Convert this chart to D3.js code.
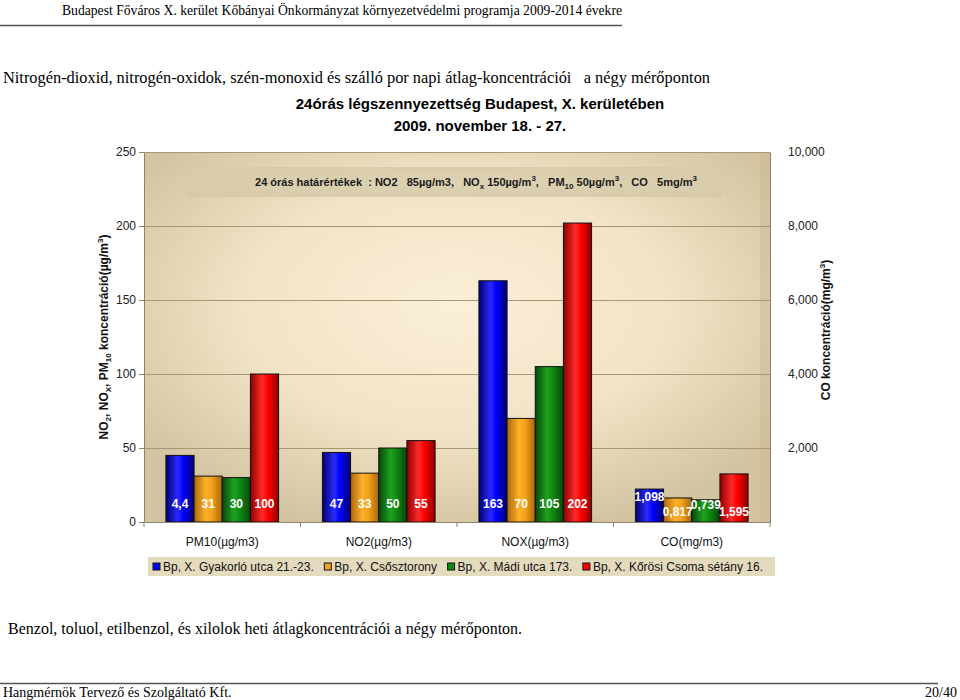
<!DOCTYPE html>
<html>
<head>
<meta charset="utf-8">
<script src="https://cdn.jsdelivr.net/npm/d3@7/dist/d3.min.js"></script>
<style>
  html, body { margin: 0; padding: 0; background: #fff; }
  svg { display: block; }
  text { white-space: pre; }
</style>
</head>
<body>
<svg id="chart" width="960" height="700"></svg>
<script>
// ---------------- DATA ----------------
const categories = ["PM10(µg/m3)", "NO2(µg/m3)", "NOX(µg/m3)", "CO(mg/m3)"];
const seriesNames = ["Bp, X. Gyakorló utca 21.-23.", "Bp, X. Csősztorony", "Bp, X. Mádi utca 173.", "Bp, X. Kőrösi Csoma sétány 16."];
// bar heights as drawn (PM10, NO2, NOX on left axis; CO on right axis)
const gyakorloValues = [45, 47, 163, 0.89];
const csosztoronyValues = [31, 33, 70, 0.65];
const madiValues = [30, 50, 105, 0.60];
const korosiValues = [100, 55, 202, 1.30];
// data labels as printed on the bars
const gyakorloLabels = ["4,4", "47", "163", "1,098"];
const csosztoronyLabels = ["31", "33", "70", "0,817"];
const madiLabels = ["30", "50", "105", "0,739"];
const korosiLabels = ["100", "55", "202", "1,595"];
const leftTicks = [0, 50, 100, 150, 200, 250];
const rightTicks = [2, 4, 6, 8, 10];
const seriesColors = ["#0000ff", "#f7a21b", "#118a11", "#ff0000"];

const seriesValues = [gyakorloValues, csosztoronyValues, madiValues, korosiValues];
const seriesLabels = [gyakorloLabels, csosztoronyLabels, madiLabels, korosiLabels];

// ---------------- LAYOUT ----------------
const svg = d3.select("#chart");
const sans = "'Liberation Sans', Arial, sans-serif";
const serif = "'Liberation Serif', 'Times New Roman', serif";
const plot = { left: 144, right: 770, top: 152, bottom: 522 };

svg.append("rect").attr("width", 960).attr("height", 700).attr("fill", "#fff");

// page header
svg.append("text").attr("x", 62).attr("y", 15)
  .attr("font-family", serif).attr("font-size", 14).attr("fill", "#000")
  .attr("textLength", 560).attr("lengthAdjust", "spacingAndGlyphs")
  .text("Budapest Főváros X. kerület Kőbányai Önkormányzat környezetvédelmi programja 2009-2014 évekre");
svg.append("line").attr("x1", 0).attr("x2", 622).attr("y1", 25.5).attr("y2", 25.5)
  .attr("stroke", "#555").attr("stroke-width", 1.5);

svg.append("text").attr("x", 3).attr("y", 83)
  .attr("font-family", serif).attr("font-size", 16).attr("fill", "#000")
  .attr("textLength", 707).attr("lengthAdjust", "spacingAndGlyphs")
  .text("Nitrogén-dioxid, nitrogén-oxidok, szén-monoxid és szálló por napi átlag-koncentrációi   a négy mérőponton");

// chart title
svg.append("text").attr("x", 480).attr("y", 109).attr("text-anchor", "middle")
  .attr("font-family", sans).attr("font-weight", "bold").attr("font-size", 15).attr("fill", "#000")
  .text("24órás légszennyezettség Budapest, X. kerületében");
svg.append("text").attr("x", 480).attr("y", 131).attr("text-anchor", "middle")
  .attr("font-family", sans).attr("font-weight", "bold").attr("font-size", 15).attr("fill", "#000")
  .text("2009. november 18. - 27.");

// ---------------- DEFS ----------------
const defs = svg.append("defs");
const bg = defs.append("radialGradient").attr("id", "plotbg")
  .attr("cx", "0.5").attr("cy", "0.42").attr("r", "0.62");
bg.append("stop").attr("offset", "0").attr("stop-color", "#fbefd8");
bg.append("stop").attr("offset", "0.55").attr("stop-color", "#f1e3c6");
bg.append("stop").attr("offset", "1").attr("stop-color", "#d3c4a1");

const dark = ["#00006e", "#a8680c", "#07470a", "#8e0000"];
const bright = ["#2a2aff", "#ffb02a", "#1fa21f", "#ff2a2a"];
seriesColors.forEach((c, i) => {
  const g = defs.append("linearGradient").attr("id", "bar" + i)
    .attr("x1", "0").attr("x2", "1").attr("y1", "0").attr("y2", "0");
  g.append("stop").attr("offset", "0").attr("stop-color", dark[i]);
  g.append("stop").attr("offset", "0.42").attr("stop-color", bright[i]);
  g.append("stop").attr("offset", "0.62").attr("stop-color", c);
  g.append("stop").attr("offset", "1").attr("stop-color", dark[i]);
});
const boxGrad = defs.append("radialGradient").attr("id", "limitbox")
  .attr("cx", "0.5").attr("cy", "0.5").attr("r", "0.7");
boxGrad.append("stop").attr("offset", "0").attr("stop-color", "#ddd2b3");
boxGrad.append("stop").attr("offset", "1").attr("stop-color", "#d6caa9");

// ---------------- SCALES ----------------
const x0 = d3.scaleBand().domain(categories).range([plot.left, plot.right]).padding(0);
const x1 = d3.scaleBand().domain(d3.range(seriesNames.length))
  .range([x0.bandwidth() * 0.14, x0.bandwidth() * 0.86]).padding(0);
const yLeft = d3.scaleLinear().domain([0, 250]).range([plot.bottom, plot.top]);
const yRight = d3.scaleLinear().domain([0, 10]).range([plot.bottom, plot.top]);
const yFor = (ci) => (categories[ci].startsWith("CO") ? yRight : yLeft);

// plot background
svg.append("rect").attr("x", plot.left).attr("y", plot.top)
  .attr("width", plot.right - plot.left).attr("height", plot.bottom - plot.top)
  .attr("fill", "url(#plotbg)");
// right wall shading
svg.append("rect").attr("x", plot.right - 10).attr("y", plot.top)
  .attr("width", 10).attr("height", plot.bottom - plot.top)
  .attr("fill", "#c9b990").attr("opacity", 0.45);

// gridlines
svg.append("g").selectAll("line").data(leftTicks.filter(d => d > 0)).join("line")
  .attr("x1", plot.left).attr("x2", plot.right)
  .attr("y1", d => Math.round(yLeft(d)) + 0.5).attr("y2", d => Math.round(yLeft(d)) + 0.5)
  .attr("stroke", "#a59877").attr("stroke-width", 1);

// limit value box
svg.append("rect").attr("x", 187).attr("y", 167).attr("width", 535).attr("height", 30)
  .attr("fill", "url(#limitbox)");
const lim = svg.append("text").attr("x", 476).attr("y", 186).attr("text-anchor", "middle")
  .attr("font-family", sans).attr("font-weight", "bold").attr("font-size", 11).attr("fill", "#1a1a1a");
const limParts = [
  ["24 órás határértékek  : NO2   85µg/m3,   NO", null], ["x", "sub"], [" 150µg/m", null], ["3", "sup"],
  [",   PM", null], ["10", "sub"], [" 50µg/m", null], ["3", "sup"], [",   CO   5mg/m", null], ["3", "sup"]
];
limParts.forEach(([t, k], i) => {
  const ts = lim.append("tspan").text(t);
  const prev = i > 0 ? limParts[i - 1][1] : null;
  let dy = 0;
  if (prev === "sub") dy -= 3;
  if (prev === "sup") dy += 5;
  if (k === "sub") { dy += 3; ts.attr("font-size", 8); }
  if (k === "sup") { dy -= 5; ts.attr("font-size", 8); }
  if (dy) ts.attr("dy", dy);
});

// ---------------- BARS ----------------
const groups = svg.append("g").selectAll("g").data(categories).join("g")
  .attr("transform", d => `translate(${x0(d)},0)`);

const barData = (c, ci) => seriesNames.map((s, si) => ({
  ci, si, value: seriesValues[si][ci], label: seriesLabels[si][ci]
}));

groups.selectAll("rect").data(barData).join("rect")
  .attr("x", d => x1(d.si))
  .attr("width", x1.bandwidth())
  .attr("y", d => yFor(d.ci)(d.value))
  .attr("height", d => yFor(d.ci)(0) - yFor(d.ci)(d.value))
  .attr("fill", d => `url(#bar${d.si})`)
  .attr("stroke", "#111").attr("stroke-width", 1);

// data labels (CO labels sit at Excel's staggered positions)
const coLabelLift = [25, 10, 17, 10];
groups.selectAll("text.lbl").data(barData).join("text").attr("class", "lbl")
  .attr("x", d => x1(d.si) + x1.bandwidth() / 2)
  .attr("y", d => yFor(d.ci)(0) - (categories[d.ci].startsWith("CO") ? coLabelLift[d.si] : 18) + 4)
  .attr("text-anchor", "middle")
  .attr("font-family", sans).attr("font-weight", "bold").attr("font-size", 12)
  .attr("fill", "#fff")
  .text(d => d.label);

// ---------------- AXES ----------------
const axL = svg.append("g").attr("transform", `translate(${plot.left},0)`)
  .call(d3.axisLeft(yLeft).tickValues(leftTicks).tickSize(5).tickSizeOuter(0).tickPadding(3));
axL.select(".domain").attr("stroke", "#8d8270");
axL.selectAll(".tick line").attr("stroke", "#8d8270");
axL.selectAll("text").attr("font-family", sans).attr("font-size", 12).attr("fill", "#222");

const axR = svg.append("g").attr("transform", `translate(${plot.right},0)`)
  .call(d3.axisRight(yRight).tickValues(rightTicks).tickSize(0).tickSizeOuter(0).tickPadding(18)
    .tickFormat(d => d3.format(".3f")(d).replace(".", ",")));
axR.select(".domain").attr("stroke", "#8d8270");
axR.selectAll("text").attr("font-family", sans).attr("font-size", 12).attr("fill", "#222");

// plot top border
svg.append("line").attr("x1", plot.left).attr("x2", plot.right)
  .attr("y1", plot.top + 0.5).attr("y2", plot.top + 0.5).attr("stroke", "#a59877");

const axB = svg.append("g").attr("transform", `translate(0,${plot.bottom})`)
  .call(d3.axisBottom(x0).tickSize(0).tickPadding(15));
axB.select(".domain").attr("stroke", "#8d8270");
axB.selectAll("text").attr("font-family", sans).attr("font-size", 12).attr("fill", "#111");
// category separators
svg.append("g").selectAll("line").data(categories.concat(["__end"])).join("line")
  .attr("x1", (d, i) => i < categories.length ? x0(d) : plot.right)
  .attr("x2", (d, i) => i < categories.length ? x0(d) : plot.right)
  .attr("y1", plot.bottom).attr("y2", plot.bottom + 5)
  .attr("stroke", "#8d8270");

// axis titles
const lt = svg.append("text").attr("transform", "translate(108,337) rotate(-90)")
  .attr("text-anchor", "middle").attr("font-family", sans).attr("font-weight", "bold")
  .attr("font-size", 12).attr("fill", "#111");
[["NO", null], ["2", "sub"], [", NO", null], ["X", "sub"], [", PM", null], ["10", "sub"],
 [" koncentráció(µg/m", null], ["3", "sup"], [")", null]].forEach(([t, k], i, arr) => {
  const ts = lt.append("tspan").text(t);
  const prev = i > 0 ? arr[i - 1][1] : null;
  let dy = 0;
  if (prev === "sub") dy -= 3;
  if (prev === "sup") dy += 5;
  if (k === "sub") { dy += 3; ts.attr("font-size", 8); }
  if (k === "sup") { dy -= 5; ts.attr("font-size", 8); }
  if (dy) ts.attr("dy", dy);
});

const rt = svg.append("text").attr("transform", "translate(830,330) rotate(-90)")
  .attr("text-anchor", "middle").attr("font-family", sans).attr("font-weight", "bold")
  .attr("font-size", 12).attr("fill", "#111");
rt.append("tspan").text("CO koncentráció(mg/m");
rt.append("tspan").text("3").attr("font-size", 8).attr("dy", -5);
rt.append("tspan").text(")").attr("dy", 5);

// ---------------- LEGEND ----------------
const legBox = { x: 148, y: 557, w: 627, h: 19 };
svg.append("rect").attr("x", legBox.x).attr("y", legBox.y).attr("width", legBox.w).attr("height", legBox.h)
  .attr("fill", "#e4dabd");
const leg = svg.append("g");
const items = leg.selectAll("g").data(seriesNames).join("g");
items.append("rect").attr("width", 7).attr("height", 7).attr("y", legBox.y + 6)
  .attr("fill", (d, i) => seriesColors[i]).attr("stroke", "#111").attr("stroke-width", 1);
items.append("text").attr("x", 10).attr("y", legBox.y + 14)
  .attr("font-family", sans).attr("font-size", 12).attr("fill", "#111").text(d => d);
const widths = items.nodes().map(n => 10 + d3.select(n).select("text").node().getComputedTextLength());
const startX = legBox.x + 5, endX = legBox.x + legBox.w - 12;
const gap = (endX - startX - d3.sum(widths)) / (widths.length - 1);
let cx = startX;
items.each(function (d, i) {
  d3.select(this).attr("transform", `translate(${cx},0)`);
  cx += widths[i] + gap;
});

// ---------------- FOOTER TEXT ----------------
svg.append("text").attr("x", 8).attr("y", 634)
  .attr("font-family", serif).attr("font-size", 16).attr("fill", "#000")
  .text("Benzol, toluol, etilbenzol, és xilolok heti átlagkoncentrációi a négy mérőponton.");
svg.append("line").attr("x1", 0).attr("x2", 938).attr("y1", 683.5).attr("y2", 683.5)
  .attr("stroke", "#555").attr("stroke-width", 1.5);
svg.append("text").attr("x", 3).attr("y", 697)
  .attr("font-family", serif).attr("font-size", 14).attr("fill", "#000")
  .text("Hangmérnök Tervező és Szolgáltató Kft.");
svg.append("text").attr("x", 957).attr("y", 697).attr("text-anchor", "end")
  .attr("font-family", serif).attr("font-size", 14).attr("fill", "#000")
  .text("20/40");
</script>
</body>
</html>
